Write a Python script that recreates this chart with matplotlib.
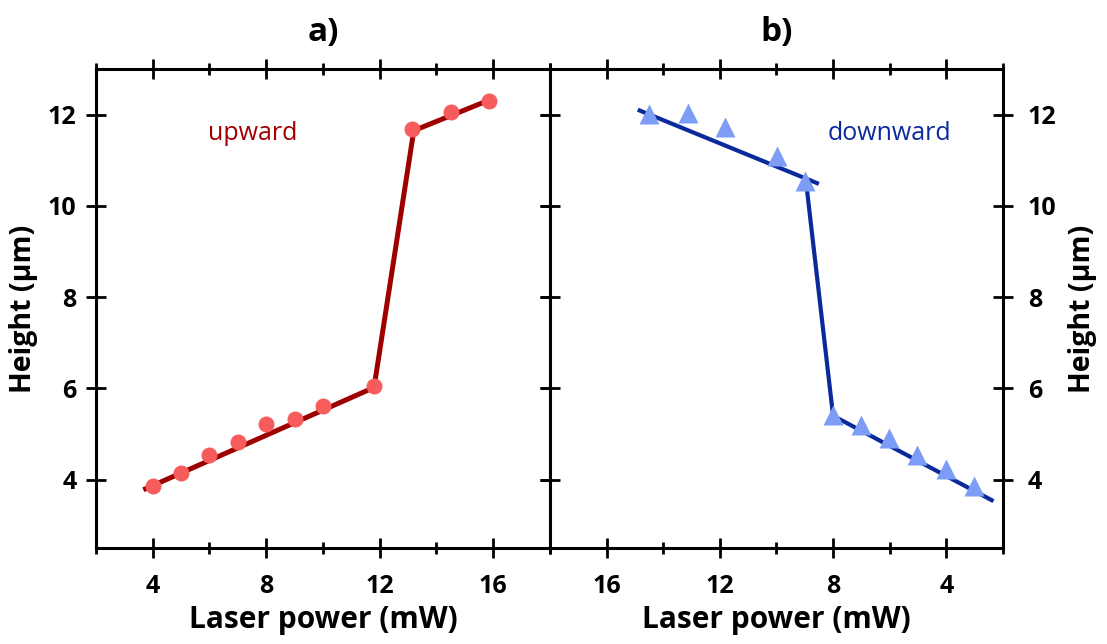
import matplotlib
matplotlib.use("Agg")
import matplotlib.pyplot as plt
from matplotlib.ticker import MultipleLocator

plt.rcParams['font.family'] = ['Open Sans', 'DejaVu Sans']
plt.rcParams['font.weight'] = 'bold'
plt.rcParams['axes.labelweight'] = 'bold'
plt.rcParams['axes.titleweight'] = 'bold'

# a) upward sweep
up_power = [4.0, 5.0, 6.0, 7.0, 8.0, 9.0, 10.0, 11.8, 13.15, 14.5, 15.85]
up_height = [3.85, 4.15, 4.53, 4.83, 5.22, 5.32, 5.61, 6.06, 11.69, 12.06, 12.31]
up_fit_power = [3.75, 11.8, 13.2, 15.9]
up_fit_height = [3.80, 6.02, 11.65, 12.33]

# b) downward sweep
down_power = [14.5, 13.13, 11.81, 9.98, 9.0, 8.0, 7.02, 6.02, 5.03, 4.01, 3.02]
down_height = [12.02, 12.04, 11.73, 11.1, 10.55, 5.42, 5.2, 4.91, 4.54, 4.24, 3.86]
down_fit_hi_power = [14.83, 8.57]
down_fit_hi_height = [12.09, 10.5]
down_fit_lo_power = [8.94, 8.0, 2.4]
down_fit_lo_height = [10.45, 5.40, 3.55]

x_ticks = [4, 8, 12, 16]
y_ticks = [4, 6, 8, 10, 12]

fig = plt.figure(figsize=(11.07, 6.44), dpi=100)
ax1 = fig.add_axes([0.0867, 0.149, 0.4101, 0.7438])
ax2 = fig.add_axes([0.4968, 0.149, 0.4092, 0.7438])

ax1.plot(up_fit_power, up_fit_height, color='#9e0000', lw=3.6, zorder=2)
ax1.plot(up_power, up_height, 'o', color='#f75c5c', ms=10.5, zorder=3)
# label placed in axes fraction
ax1.text(0.345, 0.866, 'upward', color='#a00000', fontsize=18, fontweight='normal',
         ha='center', va='center', transform=ax1.transAxes)

ax2.plot(down_fit_hi_power, down_fit_hi_height, color='#0a2a9c', lw=3, zorder=2)
ax2.plot(down_fit_lo_power, down_fit_lo_height, color='#0a2a9c', lw=3, zorder=2)
ax2.plot(down_power, down_height, '^', color='#7d9cf5', ms=14, mec='none', zorder=3)
ax2.text(0.75, 0.866, 'downward', color='#0a2a9c', fontsize=18, fontweight='normal',
         ha='center', va='center', transform=ax2.transAxes)

for ax in (ax1, ax2):
    ax.set_ylim(2.5, 13)
    ax.set_xticks(x_ticks)
    ax.set_yticks(y_ticks)
    ax.xaxis.set_minor_locator(MultipleLocator(2))
    for s in ax.spines.values():
        s.set_linewidth(2.2)
    ax.tick_params(which='both', direction='inout', width=2, top=True, right=True,
                   labelsize=18)
    ax.tick_params(which='major', length=14)
    ax.tick_params(which='minor', length=9)
    ax.tick_params(axis='x', pad=12)
    ax.set_xlabel('Laser power (mW)', fontsize=21.5, labelpad=4)
    ax.set_ylabel('Height (μm)', fontsize=20.5)

ax1.set_xlim(2, 18)
ax2.set_xlim(18, 2)

ax1.tick_params(axis='y', pad=7)
ax1.yaxis.labelpad = 7
ax2.yaxis.tick_right()
ax2.yaxis.set_label_position('right')
ax2.tick_params(axis='y', left=True, right=True, labelleft=False, labelright=True, pad=11)
ax2.yaxis.labelpad = 8

ax1.set_title('a)', fontsize=24, pad=20)
ax2.set_title('b)', fontsize=24, pad=20)

fig.savefig('out.png', dpi=100)
